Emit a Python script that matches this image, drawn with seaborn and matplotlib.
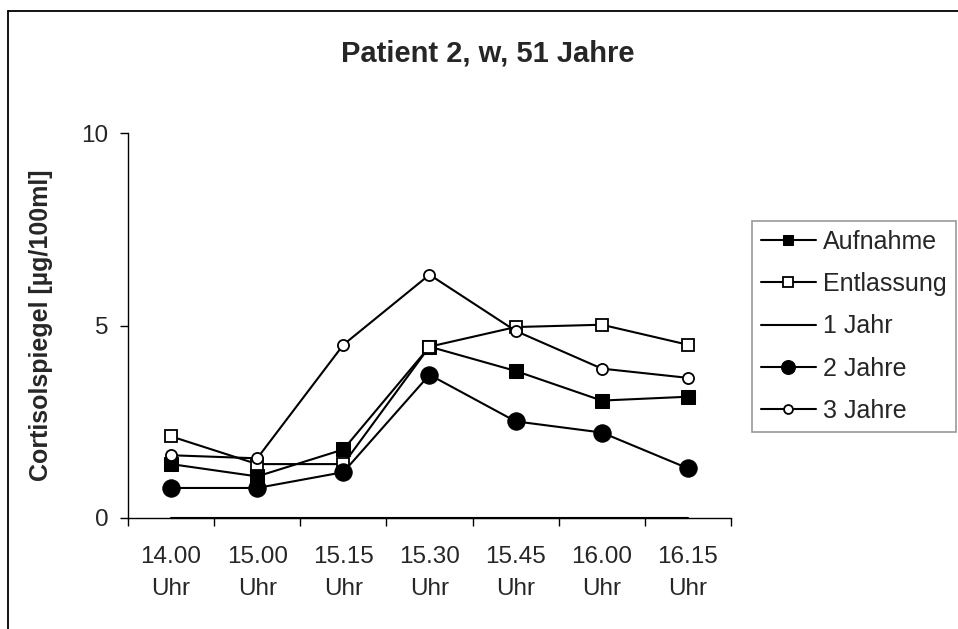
import numpy as np
import pandas as pd
import matplotlib
matplotlib.use("Agg")
import matplotlib.pyplot as plt
from matplotlib.lines import Line2D
import seaborn as sns

# Sampling times and cortisol levels per follow-up visit
zeiten = ["14.00\nUhr", "15.00\nUhr", "15.15\nUhr", "15.30\nUhr", "15.45\nUhr", "16.00\nUhr", "16.15\nUhr"]
aufnahme = [1.40, 1.08, 1.78, 4.45, 3.82, 3.05, 3.15]
entlassung = [2.12, 1.40, 1.40, 4.45, 4.96, 5.02, 4.50]
ein_jahr = [0, 0, 0, 0, 0, 0, 0]
zwei_jahre = [0.78, 0.78, 1.19, 3.72, 2.51, 2.22, 1.29]
drei_jahre = [1.63, 1.55, 4.50, 6.32, 4.86, 3.88, 3.64]
y_ticks = [0, 5, 10]

sns.set_theme(style="ticks")
plt.rcParams["font.family"] = ["Liberation Sans", "DejaVu Sans"]

fig = plt.figure(figsize=(9.58, 6.29), dpi=100)
fig.patch.set_facecolor("white")
ax = fig.add_axes([128 / 958, 1 - 518 / 629, 603 / 958, 385 / 629])

pos = np.arange(len(zeiten))
serien = [
    ("Aufnahme", aufnahme, dict(marker="s", markersize=9.5, markerfacecolor="black", markeredgecolor="black")),
    ("Entlassung", entlassung, dict(marker="s", markersize=9.0, markerfacecolor="white", markeredgecolor="black", markeredgewidth=1.3)),
    ("1 Jahr", ein_jahr, dict(marker=None)),
    ("2 Jahre", zwei_jahre, dict(marker="o", markersize=12.5, markerfacecolor="black", markeredgecolor="black")),
    ("3 Jahre", drei_jahre, dict(marker="o", markersize=8.0, markerfacecolor="white", markeredgecolor="black", markeredgewidth=1.3)),
]
for name, werte, stil in serien:
    df = pd.DataFrame({"pos": pos, "wert": werte})
    sns.lineplot(data=df, x="pos", y="wert", ax=ax, color="black", linewidth=1.5,
                 label=name, clip_on=False, **stil)

ax.set_xlim(-0.5, len(zeiten) - 0.5)
ax.set_ylim(0, 10)
ax.set_yticks(y_ticks)
ax.set_yticklabels([str(t) for t in y_ticks])
ax.set_xticks(pos)
ax.set_xticklabels(zeiten, linespacing=1.6)
ax.set_xticks(np.arange(-0.5, len(zeiten)), minor=True)
ax.tick_params(axis="x", which="major", length=0, pad=20, labelsize=17.5)
ax.tick_params(axis="x", which="minor", length=6, width=1, direction="out", color="black")
ax.tick_params(axis="y", length=6, width=1, direction="out", pad=8, labelsize=17.5, color="black")
ax.set_xlabel("")
ax.set_ylabel("Cortisolspiegel [µg/100ml]", fontsize=18, fontweight="bold")
ax.yaxis.set_label_coords(-0.124, 0.5)
for s in ("top", "right"):
    ax.spines[s].set_visible(False)
for s in ("left", "bottom"):
    ax.spines[s].set_color("black")
    ax.spines[s].set_linewidth(1.0)

fig.text(488 / 958, 1 - 53 / 629, "Patient 2, w, 51 Jahre", ha="center", va="center",
         fontsize=21, fontweight="bold")

leg = ax.legend(loc="upper left", bbox_to_anchor=(752 / 958, 1 - 221 / 629),
                bbox_transform=fig.transFigure, borderaxespad=0, frameon=True,
                fancybox=False, edgecolor="#808080", fontsize=18, handlelength=2.2,
                handletextpad=0.3, labelspacing=0.73, borderpad=0.35, markerscale=0.8)
leg.get_frame().set_linewidth(1.2)

# chart area outline
fig.add_artist(Line2D([8 / 958, 8 / 958], [0, 1 - 11 / 629], color="black", linewidth=1.3))
fig.add_artist(Line2D([8 / 958, 1], [1 - 11 / 629, 1 - 11 / 629], color="black", linewidth=1.3))

fig.savefig("out.png", dpi=100, facecolor="white")
